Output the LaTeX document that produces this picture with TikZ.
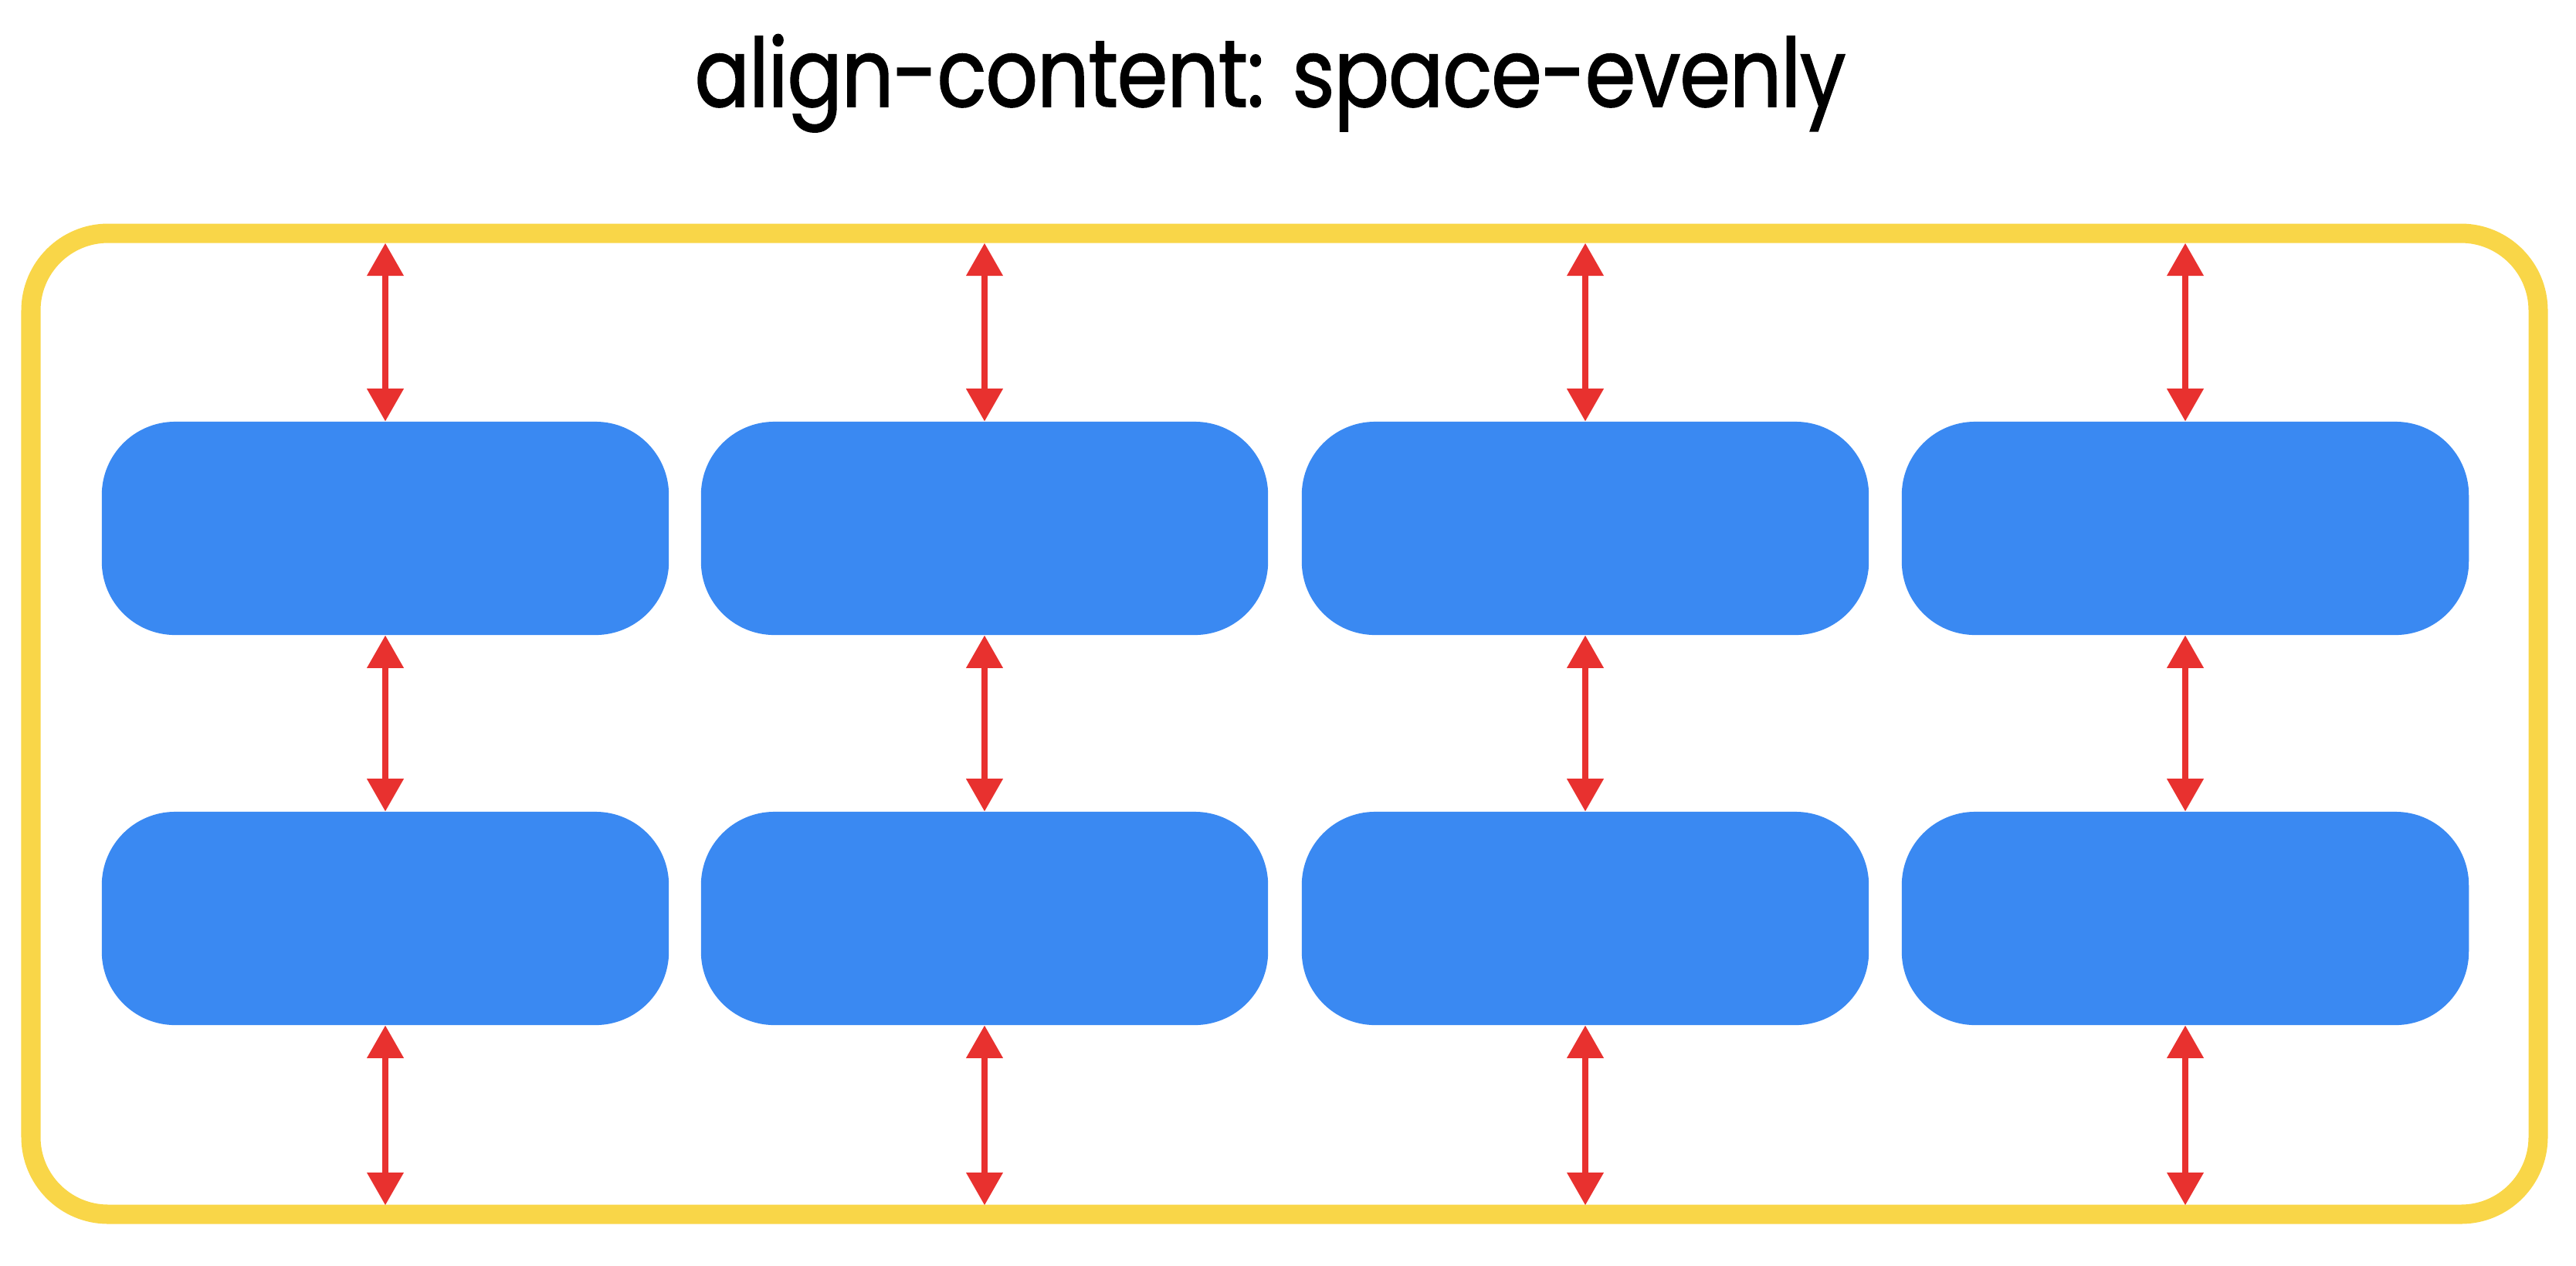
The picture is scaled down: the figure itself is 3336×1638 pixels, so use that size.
\documentclass[tikz,border=0pt]{standalone}
\usepackage{fontspec}
\setmainfont{Poppins}
\newfontfamily\titlefont[FakeStretch=0.86, LetterSpace=-1, FakeBold=1.2]{Poppins}
\usetikzlibrary{positioning, arrows.meta}
\definecolor{frameyellow}{HTML}{F9D648}
\definecolor{itemblue}{HTML}{3A89F2}
\definecolor{gapred}{HTML}{E8312F}

\begin{document}
\begin{tikzpicture}[
      x=0.01cm, y=-0.01cm,
      hdr/.style={font=\titlefont\fontsize{35}{40}\selectfont, anchor=base, inner sep=0pt},
      item/.style={rounded corners=0.95cm, fill=itemblue, minimum width=7.34cm,
                   minimum height=2.76cm, inner sep=0pt},
      gap/.style={{Triangle[width=0.48cm, length=0.42cm, line width=0pt]}-{Triangle[width=0.48cm, length=0.42cm, line width=0pt]},
                  line width=0.08cm, draw=gapred}]
    \useasboundingbox (0,0) rectangle (3336,1638);
    \node[hdr] (title) at (1645,138) {align-content: space-evenly};
    \draw[frameyellow, line width=0.25cm, rounded corners=1.0cm] (40,302) rectangle (3287,1572);
    \foreach \i/\x in {1/499, 2/1275, 3/2053, 4/2830}{
      \node[item] (a\i) at (\x,684) {};
      \node[item] (b\i) at (\x,1189) {};
      \coordinate (t\i) at (\x,315);
      \coordinate (u\i) at (\x,1560);
      \draw[gap] (t\i) -- (a\i.north);
      \draw[gap] (a\i.south) -- (b\i.north);
      \draw[gap] (b\i.south) -- (u\i);
    }
  \end{tikzpicture}
\end{document}
